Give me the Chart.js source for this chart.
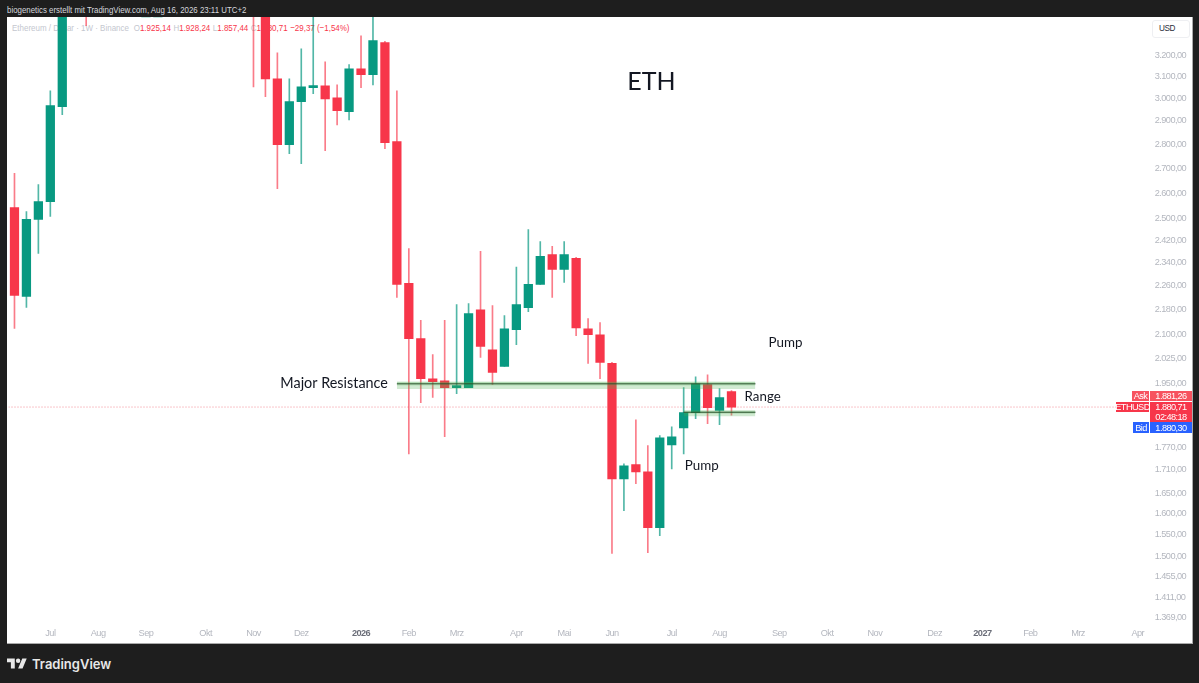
<!DOCTYPE html>
<html lang="de">
<head>
<meta charset="utf-8">
<title>ETH</title>
<script src="https://cdn.jsdelivr.net/npm/chart.js@4/dist/chart.umd.min.js"></script>
<style>
    html, body { margin: 0; padding: 0; width: 1199px; height: 683px; overflow: hidden; background: #1e1e1e; font-family: "Liberation Sans", sans-serif; }
    #byline { position: absolute; left: 7px; top: 3px; font-size: 9.4px; line-height: 14px; color: #d6d8de; white-space: nowrap; transform: scaleX(0.84); transform-origin: left; }
    #panel { position: absolute; left: 7px; top: 17px; width: 1185px; height: 626px; background: #fff; }
    #edge { position: absolute; left: 1192px; top: 17px; width: 1px; height: 627px; background: #aaa; }
    #edgeBottom { position: absolute; left: 7px; top: 643px; width: 1186px; height: 1px; background: #aaa; }
    #legend { position: absolute; left: 5px; top: 4px; font-size: 9.4px; line-height: 13px; color: #c4c7cf; white-space: nowrap; transform: scaleX(0.85); transform-origin: left; }
    #legend b { font-weight: normal; color: #f7364a; }
    #legend i { font-style: normal; margin-left: 3px; }
    #chart { position: absolute; left: 0; top: 0; }
    #usd { position: absolute; left: 1145px; top: 3px; width: 36px; height: 16px; border: 1px solid #eeeff2; border-radius: 3px; font-size: 8.2px; letter-spacing: -0.4px; line-height: 16px; color: #2a2e39; text-indent: 6px; background: #fff; }
    #brand { position: absolute; left: 32px; top: 654px; font-family: Inter, sans-serif; font-weight: 600; font-size: 13px; line-height: 20px; color: #e8e8e8; }
    #logo { position: absolute; left: 7px; top: 656px; }
</style>
</head>
<body>
<div id="byline">biogenetics erstellt mit TradingView.com, Aug 16, 2026 23:11 UTC+2</div>
<div id="panel">
    <div id="legend">Ethereum / Dollar · 1W · Binance <i>O<b>1.925,14</b></i><i>H<b>1.928,24</b></i><i>L<b>1.857,44</b></i><i>C<b>1.880,71</b></i><i><b>−29,37 (−1,54%)</b></i></div>
    <canvas id="chart" width="1185" height="626"></canvas>
    <div id="usd">USD</div>
</div>
<div id="edge"></div>
<div id="edgeBottom"></div>
<svg id="logo" width="20" height="16" viewBox="0 0 36 28"><path fill="#e8e8e8" d="M14 22H7V11H0V4h14v18zM28 22h-8l7.5-18h8L28 22z"/><circle fill="#e8e8e8" cx="20" cy="8" r="4"/></svg>
<div id="brand">TradingView</div>

<script>
// Wochenachse, nur die Monatsanfänge tragen einen Text
const weekLabels = [
    '', '', '', 'Jul', '', '', '', 'Aug', '', '', '', 'Sep', '', '', '', '', 'Okt', '', '', '', 'Nov', '', '', '', 'Dez',
    '', '', '', '', '2026', '', '', '', 'Feb', '', '', '', 'Mrz', '', '', '', '', 'Apr', '', '', '', 'Mai', '', '', '', 'Jun',
    '', '', '', '', 'Jul', '', '', '', 'Aug', '', '', '', '', 'Sep', '', '', '', 'Okt', '', '', '', 'Nov', '', '', '', '', 'Dez',
    '', '', '', '2027', '', '', '', 'Feb', '', '', '', 'Mrz', '', '', '', '', 'Apr'
];

const opens = [
    2543, 2223, 2498, 2566, 2963, 3560, 3730, 3490, 4260, 4480, 4780, 4300, 4310, 4310, 4720, 4450, 4020, 4510, 3840, 4030, 3880,
    3420, 3090, 2797, 2985, 3049, 3058, 3003, 2940, 3137, 3109, 3264, 2810, 2268, 2086, 1963, 1957, 1937, 1937, 2179, 2051,
    2000, 2114, 2186, 2264, 2369, 2316, 2355, 2117, 2098, 2009, 1687, 1724, 1705, 1567, 1776, 1822, 1865, 1946, 1871, 1925.14
];
const highs = [
    2678, 2528, 2633, 3035, 3720, 3860, 3940, 4330, 4790, 4880, 4800, 4490, 4500, 4770, 4740, 4500, 4540, 4760, 4290, 4250, 4250,
    3650, 3214, 3090, 3234, 3450, 3171, 3062, 3157, 3298, 3430, 3270, 3035, 2390, 2144, 2036, 2144, 2196, 2199, 2380, 2193,
    2160, 2324, 2460, 2416, 2398, 2416, 2359, 2150, 2137, 2012, 1726, 1845, 1774, 1801, 1825, 1937, 1969, 1975, 1934, 1928.24
];
const lows = [
    2118, 2187, 2373, 2509, 2927, 3480, 3349, 3440, 4190, 4220, 4260, 4200, 4220, 4280, 4400, 3980, 3820, 3720, 3700, 3900, 3053,
    3008, 2617, 2759, 2718, 3021, 2772, 2882, 2904, 3049, 3062, 2780, 2220, 1752, 1893, 1908, 1798, 1919, 1937, 2027, 1946,
    2000, 2067, 2173, 2264, 2220, 2271, 2095, 2009, 1963, 1507, 1608, 1675, 1509, 1548, 1713, 1752, 1848, 1834, 1831, 1857.44
];
const closes = [
    2227, 2498, 2566, 2967, 3560, 3730, 3490, 4260, 4480, 4780, 4300, 4310, 4310, 4720, 4450, 4020, 4510, 3840, 4030, 3880, 3420,
    3090, 2797, 2985, 3053, 3057, 2998, 2945, 3137, 3109, 3274, 2806, 2264, 2086, 1963, 1954, 1937, 1940, 2166, 2061, 1982,
    2117, 2196, 2264, 2362, 2316, 2369, 2120, 2098, 2012, 1687, 1721, 1705, 1567, 1795, 1798, 1865, 1948, 1879, 1908, 1880.71
];

const priceTicks = [3200, 3100, 3000, 2900, 2800, 2700, 2600, 2500, 2420, 2340, 2260, 2180, 2100, 2025, 1950, 1770, 1710, 1650, 1600, 1550, 1500, 1455, 1411, 1369];

// Gezeichnete Zonen: [erste Woche, letzte Woche, oben, Linie, Mitte, unten]
const resistanceZone = [32, 62, 1954, 1948, 1943, 1933];
const rangeZone = [56, 62, 1871, 1866, 1862, 1855];

const lastPrice = 1880.71;
const askPrice = 1881.26;
const bidPrice = 1880.30;
const countdown = '02:48:18';

const upColor = '#089981';
const downColor = '#f7364a';
const tickColor = '#b4b7bf';
const labelFont = '"Liberation Sans", sans-serif';
const noteFont = 'Lato, sans-serif';
const tightText = '-0.55px';

const candleColors = closes.map((c, i) => c >= opens[i] ? upColor : downColor);
const wickColors = closes.map((c, i) => c >= opens[i] ? 'rgba(8, 153, 129, 0.7)' : 'rgba(247, 54, 74, 0.65)');
const fmt = v => v.toLocaleString('de-DE', { minimumFractionDigits: 2, maximumFractionDigits: 2 });
const edgeLine = (from, to, y) => [{ x: from, y: y }, { x: to, y: y }];

function zoneBand(zone) {
    const flat = { type: 'line', xAxisID: 'x2', order: 0, pointRadius: 0, borderWidth: 0 };
    return [
        { ...flat, data: edgeLine(zone[0], zone[1], zone[2]), fill: '+1', backgroundColor: 'rgba(76, 175, 80, 0.26)' },
        { ...flat, data: edgeLine(zone[0], zone[1], zone[5]), fill: false },
        { ...flat, data: edgeLine(zone[0], zone[1], zone[2]), fill: '+1', backgroundColor: 'rgba(76, 175, 80, 0.22)' },
        { ...flat, data: edgeLine(zone[0], zone[1], zone[4]), fill: false },
        { ...flat, data: edgeLine(zone[0], zone[1], zone[3]), borderColor: '#111', borderWidth: 1, fill: false }
    ];
}

// Beschriftungen und Preisschilder, an die Skalen gebunden
const overlayPlugin = {
    id: 'overlay',
    beforeDraw(chart) {
        chart.ctx.letterSpacing = tightText;
    },
    afterDraw(chart) {
        const ctx = chart.ctx;
        const y = chart.scales.y;
        const x2 = chart.scales.x2;

        ctx.letterSpacing = '0px';
        function note(text, week, price, size, align) {
            ctx.font = size + 'px ' + noteFont;
            ctx.fillStyle = '#131722';
            ctx.textAlign = align;
            ctx.textBaseline = 'middle';
            ctx.fillText(text, x2.getPixelForValue(week), y.getPixelForValue(price));
        }
        note('ETH', 53.3, 3075, 25, 'center');
        note('Major Resistance', 31.25, 1948, 14.4, 'right');
        note('Pump', 63.1, 2072, 13.4, 'left');
        note('Range', 61.1, 1911, 13.3, 'left');
        note('Pump', 56.1, 1721, 13.4, 'left');

        ctx.letterSpacing = tightText;
        const py = Math.round(y.getPixelForValue(lastPrice));
        function tag(left, top, w, h, color, text) {
            ctx.fillStyle = color;
            ctx.fillRect(left, py + top, w, h);
            ctx.fillStyle = '#fff';
            ctx.font = '9.2px ' + labelFont;
            ctx.textAlign = 'center';
            ctx.fillText(text, left + w / 2, py + top + h / 2 + 0.5);
        }
        tag(1125, -16, 17, 10, '#f7525f', 'Ask');
        tag(1143, -16, 42, 10, '#f7525f', fmt(askPrice));
        tag(1109, -5, 33, 10, downColor, 'ETHUSD');
        tag(1143, -5, 42, 10, downColor, fmt(lastPrice));
        tag(1143, 5, 42, 10, downColor, countdown);
        tag(1126, 15, 16, 11, '#2962ff', 'Bid');
        tag(1143, 15, 42, 11, '#2962ff', fmt(bidPrice));
    }
};

new Chart(document.getElementById('chart'), {
    type: 'bar',
    plugins: [overlayPlugin],
    data: {
        labels: weekLabels,
        datasets: [
            ...zoneBand(resistanceZone),
            ...zoneBand(rangeZone),
            { type: 'line', xAxisID: 'x2', order: 3, data: edgeLine(-0.5, 94.5, lastPrice), borderColor: '#f28b95', borderWidth: 1, borderDash: [1, 2], pointRadius: 0, fill: false },
            { grouped: false, order: 1, data: opens.map((o, i) => [o, closes[i]]), backgroundColor: candleColors, barThickness: 8.6, minBarLength: 2 },
            { grouped: false, order: 2, data: lows.map((l, i) => [l, highs[i]]), backgroundColor: wickColors, barThickness: 1 }
        ]
    },
    options: {
        responsive: false,
        animation: false,
        events: [],
        layout: { padding: { left: 1.5 } },
        plugins: { legend: { display: false }, tooltip: { enabled: false } },
        scales: {
            x: {
                offset: true,
                grid: { display: false, drawTicks: false },
                border: { display: false },
                afterFit: scale => { scale.height = 18; scale.paddingLeft = 0; scale.paddingRight = 0; },
                ticks: {
                    autoSkip: false,
                    maxRotation: 0,
                    padding: 3,
                    font: ctx => ({ family: labelFont, size: 9.2, weight: /^20/.test(ctx.tick.label) ? 'bold' : 'normal' }),
                    color: ctx => /^20/.test(ctx.tick.label) ? '#6a6d78' : tickColor
                }
            },
            x2: { type: 'linear', display: false, offset: false, min: -0.5, max: 94.5 },
            y: {
                type: 'logarithmic',
                position: 'right',
                bounds: 'data',
                min: 1352.5,
                max: 3393,
                grid: { display: false, drawTicks: false },
                border: { display: false },
                afterFit: scale => { scale.width = 48.25; scale.paddingTop = 0; scale.paddingBottom = 0; },
                afterBuildTicks: scale => { scale.ticks = priceTicks.map(v => ({ value: v })); },
                ticks: {
                    autoSkip: false,
                    crossAlign: 'near',
                    padding: 11,
                    font: { family: labelFont, size: 9.2 },
                    color: tickColor,
                    callback: v => fmt(v)
                }
            }
        }
    }
});
</script>
</body>
</html>
